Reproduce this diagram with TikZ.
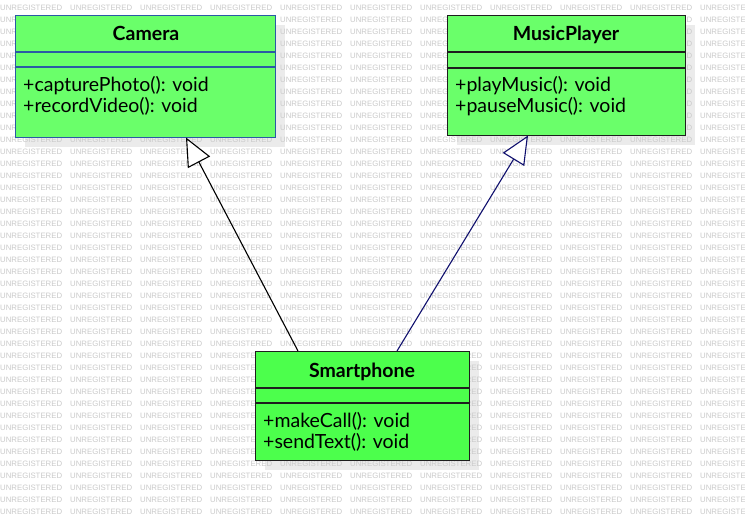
\documentclass[tikz,border=0pt]{standalone}
\usepackage{fontspec}
\setmainfont{Lato}
\newfontfamily\wmfont{Liberation Sans}
\usetikzlibrary{arrows.meta,calc}
\definecolor{wmgray}{HTML}{CACACA}
\definecolor{shadowgray}{HTML}{EBEBEB}
\definecolor{boxgreenA}{HTML}{6AFF6A}
\definecolor{boxgreenB}{HTML}{4CFF4C}
\definecolor{camblue}{HTML}{2A5AA5}
\definecolor{darkline}{HTML}{1E1E1E}
\definecolor{navyline}{HTML}{10106E}
\tikzset{
  wm/.style={font=\wmfont\fontsize{7.8}{8}\selectfont, text=wmgray, inner sep=0pt, anchor=west},
  classbox/.style={draw, line width=1.3pt, anchor=north west, inner sep=0pt},
  titletext/.style={font=\bfseries\fontsize{19.5}{22}\selectfont, inner sep=0pt, anchor=base},
  optext/.style={font=\fontsize{19.5}{22}\selectfont, inner sep=0pt, anchor=base west},
  gen/.style={line width=1.1pt, -{Triangle[open, length=28pt, width=25pt, fill=white]}},
}
\begin{document}
\begin{tikzpicture}[x=1pt,y=1pt]
\path[use as bounding box, fill=white] (0,0) rectangle (745,-520);
% shadows
\fill[shadowgray] (25,-25) rectangle (285,-147);
\fill[shadowgray] (457,-25) rectangle (695,-145);
\fill[shadowgray] (265,-361) rectangle (479,-470);
% watermark
\foreach \r in {0,...,42} {
  \foreach \c in {0,...,10} {
    \node[wm] at (\c*70, -8-\r*12) {UNREGISTERED};
  }
}
% Camera
\node[classbox, draw=camblue, fill=boxgreenA, minimum width=260pt, minimum height=122pt] (cam) at (15,-15) {};
\draw[camblue, line width=1.3pt] (15,-52) -- (275,-52);
\draw[camblue, line width=1.3pt] (15,-67) -- (275,-67);
\node[titletext] (camt) at (146,-40.5) {Camera};
\node[optext] (camo1) at (23,-91) {+capturePhoto(): void};
\node[optext] (camo2) at (23,-112) {+recordVideo(): void};
% MusicPlayer
\node[classbox, draw=darkline, fill=boxgreenA, minimum width=238pt, minimum height=120pt] (mp) at (447,-15) {};
\draw[darkline, line width=1.3pt] (447,-52) -- (685,-52);
\draw[darkline, line width=1.3pt] (447,-68) -- (685,-68);
\node[titletext] (mpt) at (566,-40.5) {MusicPlayer};
\node[optext] (mpo1) at (455,-91) {+playMusic(): void};
\node[optext] (mpo2) at (455,-112) {+pauseMusic(): void};
% Smartphone
\node[classbox, draw=darkline, fill=boxgreenB, minimum width=214pt, minimum height=109pt] (sp) at (255,-351) {};
\draw[darkline, line width=1.3pt] (255,-388) -- (469,-388);
\draw[darkline, line width=1.3pt] (255,-403) -- (469,-403);
\node[titletext] (spt) at (362,-377) {Smartphone};
\node[optext] (spo1) at (263,-427) {+makeCall(): void};
\node[optext] (spo2) at (263,-448) {+sendText(): void};
% connectors
\coordinate (s1) at (298,-351);
\coordinate (c1) at (186,-137.5);
\coordinate (s2) at (397,-351);
\coordinate (m1) at (528,-135.5);
\draw[gen, black] (s1) -- (c1);
\draw[gen, navyline] (s2) -- (m1);
\end{tikzpicture}
\end{document}
